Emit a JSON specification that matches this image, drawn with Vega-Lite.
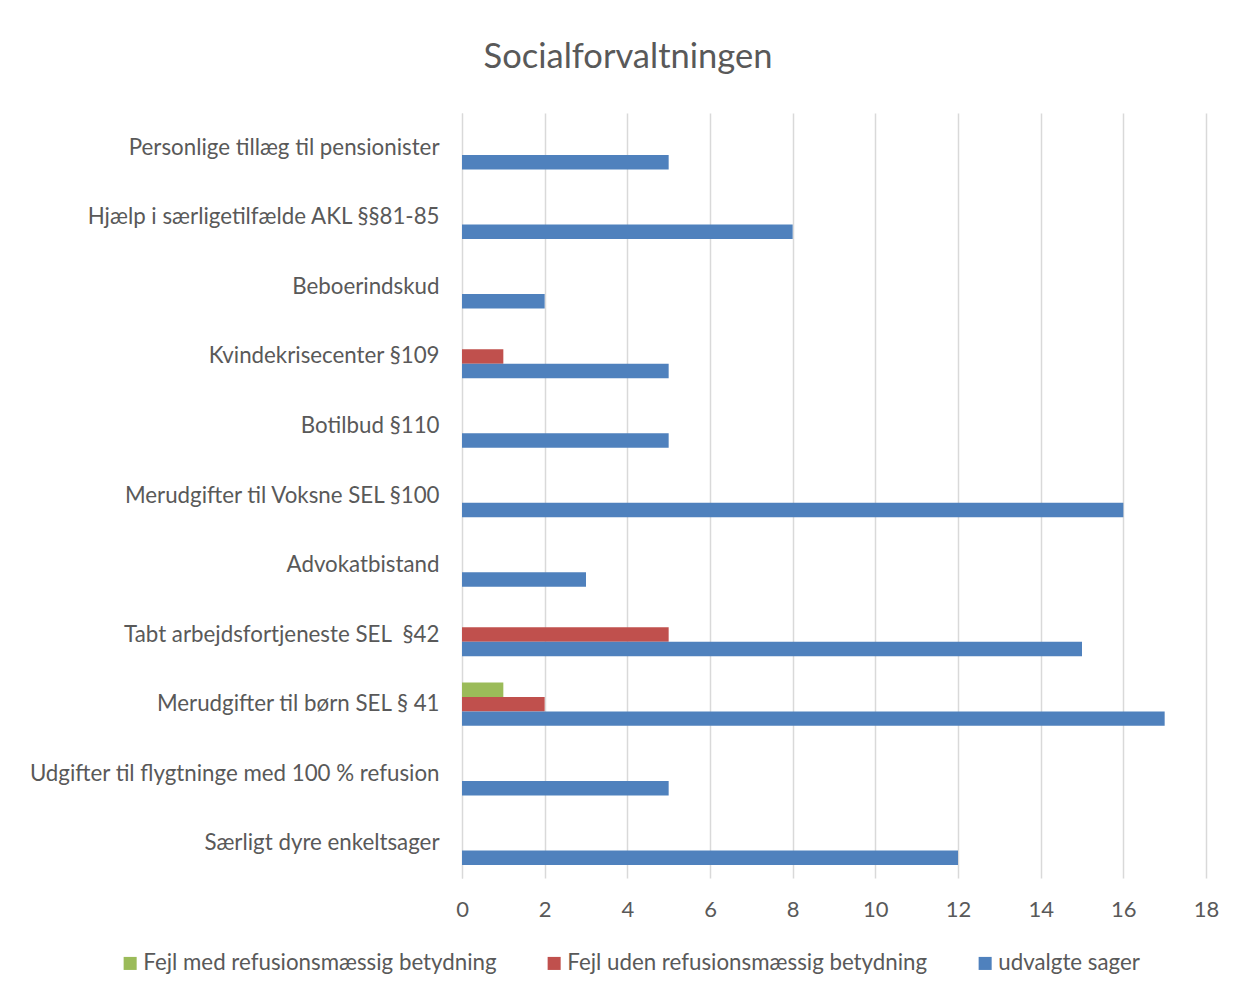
{
  "$schema": "https://vega.github.io/schema/vega-lite/v6.json",
  "width": 744,
  "height": 765,
  "autosize": {"type": "none"},
  "padding": {"left": 462, "top": 113, "right": 30, "bottom": 115},
  "background": "white",
  "title": {
    "text": "Socialforvaltningen",
    "font": "Lato",
    "fontSize": 34.5,
    "fontWeight": "normal",
    "color": "#595959",
    "anchor": "middle",
    "frame": "group",
    "dx": -206,
    "offset": 38
  },
  "data": {
    "values": [
      {"kategori": "Personlige tillæg til pensionister", "serie": "udvalgte sager", "antal": 5},
      {"kategori": "Hjælp i særligetilfælde AKL §§81-85", "serie": "udvalgte sager", "antal": 8},
      {"kategori": "Beboerindskud", "serie": "udvalgte sager", "antal": 2},
      {"kategori": "Kvindekrisecenter §109", "serie": "Fejl uden refusionsmæssig betydning", "antal": 1},
      {"kategori": "Kvindekrisecenter §109", "serie": "udvalgte sager", "antal": 5},
      {"kategori": "Botilbud §110", "serie": "udvalgte sager", "antal": 5},
      {"kategori": "Merudgifter til Voksne SEL §100", "serie": "udvalgte sager", "antal": 16},
      {"kategori": "Advokatbistand", "serie": "udvalgte sager", "antal": 3},
      {"kategori": "Tabt arbejdsfortjeneste SEL \u00a0§42", "serie": "Fejl uden refusionsmæssig betydning", "antal": 5},
      {"kategori": "Tabt arbejdsfortjeneste SEL \u00a0§42", "serie": "udvalgte sager", "antal": 15},
      {"kategori": "Merudgifter til børn SEL § 41", "serie": "Fejl med refusionsmæssig betydning", "antal": 1},
      {"kategori": "Merudgifter til børn SEL § 41", "serie": "Fejl uden refusionsmæssig betydning", "antal": 2},
      {"kategori": "Merudgifter til børn SEL § 41", "serie": "udvalgte sager", "antal": 17},
      {"kategori": "Udgifter til flygtninge med 100 % refusion\u00a0", "serie": "udvalgte sager", "antal": 5},
      {"kategori": "Særligt dyre enkeltsager", "serie": "udvalgte sager", "antal": 12}
    ]
  },
  "mark": {"type": "bar"},
  "encoding": {
    "y": {
      "field": "kategori",
      "type": "nominal",
      "sort": null,
      "scale": {"paddingInner": 0, "paddingOuter": 0},
      "axis": {
        "title": null,
        "ticks": false,
        "domain": true,
        "domainColor": "#d9d9d9",
        "grid": false,
        "labelPadding": 23,
        "labelFont": "Lato",
        "labelFontSize": 22.3,
        "labelColor": "#595959",
        "labelLimit": 500
      }
    },
    "yOffset": {
      "field": "serie",
      "type": "nominal",
      "scale": {
        "domain": ["Fejl med refusionsmæssig betydning", "Fejl uden refusionsmæssig betydning", "udvalgte sager"],
        "paddingInner": 0,
        "paddingOuter": 0.9
      }
    },
    "x": {
      "field": "antal",
      "type": "quantitative",
      "scale": {"domain": [0, 18]},
      "axis": {
        "title": null,
        "values": [0, 2, 4, 6, 8, 10, 12, 14, 16, 18],
        "ticks": false,
        "domain": false,
        "grid": true,
        "gridColor": "#d9d9d9",
        "gridWidth": 1.5,
        "labelFlush": false,
        "labelPadding": 21,
        "labelFont": "Lato",
        "labelFontSize": 22,
        "labelColor": "#595959"
      }
    },
    "color": {
      "field": "serie",
      "type": "nominal",
      "scale": {
        "domain": ["Fejl med refusionsmæssig betydning", "Fejl uden refusionsmæssig betydning", "udvalgte sager"],
        "range": ["#9BBB59", "#C0504D", "#4F81BD"]
      },
      "legend": {
        "title": null,
        "orient": "none",
        "direction": "horizontal",
        "legendX": -343,
        "legendY": 839,
        "symbolType": "square",
        "symbolSize": 170,
        "symbolStrokeWidth": 0,
        "labelFont": "Lato",
        "labelFontSize": 22.3,
        "labelColor": "#595959",
        "labelLimit": 500,
        "columnPadding": 46,
        "labelOffset": 2
      }
    }
  },
  "config": {
    "view": {"stroke": null}
  }
}
